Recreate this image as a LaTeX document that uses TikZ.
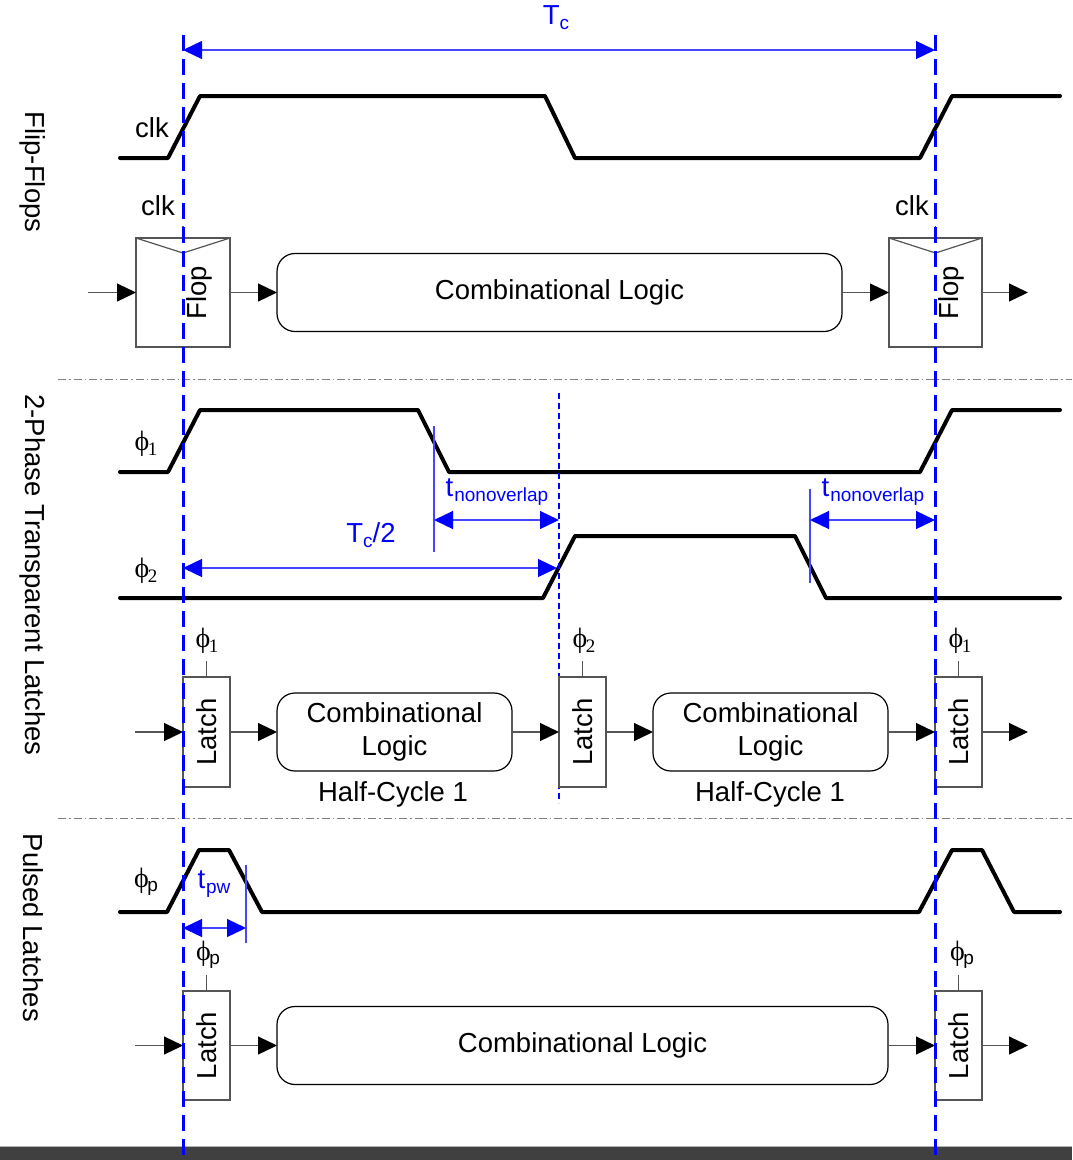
\documentclass[tikz,border=0pt]{standalone}
\usepackage{fontspec}
\setmainfont{Liberation Sans}
\newfontfamily\serifnum{Liberation Serif}
\usetikzlibrary{arrows.meta}
\definecolor{pureblue}{RGB}{0,0,255}
\definecolor{lineblue}{RGB}{70,70,255}
\definecolor{boxgray}{RGB}{85,85,85}
\definecolor{bardark}{RGB}{64,64,64}
\newcommand{\bigtxt}{\fontsize{27.5}{33}\selectfont}
\newcommand{\subtxt}{\fontsize{19}{19}\selectfont}
\newcommand{\phisub}[1]{{\serifnum\fontsize{28}{28}\selectfont ϕ}\kern-1.5pt\raisebox{-0.3ex}{\fontsize{19}{19}\selectfont #1}}
\newcommand{\phinum}[1]{\phisub{\serifnum #1}}
\begin{document}
\begin{tikzpicture}[x=1pt,y=-1pt,
  wave/.style={line width=4pt, line join=round, line cap=round},
  blockbox/.style={draw=boxgray, line width=1.2pt, inner sep=0pt, outer sep=0pt},
  latchbox/.style={blockbox, minimum width=47pt, minimum height=110pt},
  flopbox/.style={blockbox, minimum width=94pt, minimum height=109pt},
  logicbox/.style={draw=black, line width=1.2pt, rounded corners=18pt, inner sep=0pt, outer sep=0pt, minimum height=78pt, font=\bigtxt, align=center},
  conn/.style={draw=boxgray, line width=1.2pt, -{Triangle[length=19pt,width=18pt,fill=black,color=black]}},
  tick/.style={draw=boxgray, line width=1.2pt},
  edgemark/.style={draw=pureblue, line width=3pt, dash pattern=on 16pt off 8pt},
  halfmark/.style={draw=pureblue, line width=1.4pt, dash pattern=on 6pt off 4pt},
  measure/.style={draw=lineblue, line width=1.3pt, {Triangle[length=19pt,width=18pt,color=pureblue]}-{Triangle[length=19pt,width=18pt,color=pureblue]}},
  limit/.style={draw=lineblue, line width=1.3pt},
  sep/.style={draw=gray, line width=1pt, dash pattern=on 8pt off 3pt on 1.5pt off 3pt},
  txt/.style={font=\bigtxt, inner sep=0pt},
  bluetxt/.style={font=\bigtxt, text=pureblue, inner sep=0pt}
]
\useasboundingbox (0,0) rectangle (1072,1160);

% bottom bar
\fill[bardark] (0,1147) rectangle (1072,1160);
\draw[gray!60, line width=1pt] (0,1146.5) -- (1072,1146.5);

% section separators
\draw[sep] (58,379) -- (1072,379);
\draw[sep] (58,818) -- (1072,818);

% section titles
\node[txt, rotate=-90] (ttlff) at (33,172) {Flip-Flops};
\node[txt, rotate=-90] (ttl2p) at (33,575) {2-Phase Transparent Latches};
\node[txt, rotate=-90] (ttlpl) at (33,928) {Pulsed Latches};

% ---------- flip-flop section ----------
\draw[wave] (120,158) -- (168,158) -- (200,96) -- (545,96) -- (575,158) -- (920,158) -- (952,96) -- (1060,96);
\node[txt] (clkw) at (152,128) {clk};

\coordinate (inA) at (88,292.5);
\node[flopbox] (flopA) at (183,292.5) {};
\node[txt, rotate=90] (flopAt) at (199,292.5) {Flop};
\node[logicbox, minimum width=565pt] (combA) at (559.5,292.5) {Combinational Logic};
\node[flopbox, minimum width=93pt] (flopB) at (935.5,292.5) {};
\node[txt, rotate=90] (flopBt) at (951,292.5) {Flop};
\coordinate (outA) at (1028,292.5);
\draw[blockbox] (flopA.north west) -- (183,253) -- (flopA.north east);
\draw[blockbox] (flopB.north west) -- (935.5,253) -- (flopB.north east);
\node[txt] (clkA) at (158,206) {clk};
\node[txt] (clkB) at (912,206) {clk};
\draw[tick] (flopA.north) -- ++(0,-12);
\draw[tick] (flopB.north) -- ++(0,-12);
\draw[conn] (inA) -- (flopA.west);
\draw[conn] (flopA.east) -- (combA.west);
\draw[conn] (combA.east) -- (flopB.west);
\draw[conn] (flopB.east) -- (outA);

% ---------- two-phase latch section ----------
\draw[wave] (120,472) -- (168,472) -- (200,410) -- (418,410) -- (449,472) -- (920,472) -- (952,410) -- (1060,410);
\draw[wave] (120,598) -- (543,598) -- (575,536) -- (795,536) -- (826,598) -- (1060,598);
\node[txt] (ph1w) at (146,444) {\phinum{1}};
\node[txt] (ph2w) at (146,571) {\phinum{2}};

\draw[halfmark] (559,393) -- (559,803);

% non-overlap and half-period measures
\coordinate (noAa) at (434,426);
\coordinate (noAb) at (434,552);
\draw[limit] (noAa) -- (noAb);
\coordinate (noAl) at (434,520);
\coordinate (noAr) at (559,520);
\draw[measure] (noAl) -- (noAr);
\node[bluetxt] (noAt) at (497,492) {t\kern1pt\raisebox{-0.35ex}{\subtxt nonoverlap}};

\coordinate (noBa) at (810,489);
\coordinate (noBb) at (810,583);
\draw[limit] (noBa) -- (noBb);
\coordinate (noBl) at (810,520);
\coordinate (noBr) at (935,520);
\draw[measure] (noBl) -- (noBr);
\node[bluetxt] (noBt) at (873,492) {t\kern1pt\raisebox{-0.35ex}{\subtxt nonoverlap}};

\coordinate (hpl) at (183,568);
\coordinate (hpr) at (557,568);
\draw[measure] (hpl) -- (hpr);
\node[bluetxt] (hpt) at (371,535) {T\raisebox{-0.35ex}{\subtxt c}/2};

\coordinate (inB) at (135,732);
\node[latchbox] (latA) at (206.5,732) {};
\node[txt, rotate=90] (latAt) at (206.5,732) {Latch};
\node[logicbox, minimum width=235pt] (combB) at (394.5,732) {Combinational\\Logic};
\node[latchbox] (latB) at (582.5,732) {};
\node[txt, rotate=90] (latBt) at (582.5,732) {Latch};
\node[logicbox, minimum width=235pt] (combC) at (770.5,732) {Combinational\\Logic};
\node[latchbox] (latC) at (958.5,732) {};
\node[txt, rotate=90] (latCt) at (958.5,732) {Latch};
\coordinate (outB) at (1028,732);
\draw[conn] (inB) -- (latA.west);
\draw[conn] (latA.east) -- (combB.west);
\draw[conn] (combB.east) -- (latB.west);
\draw[conn] (latB.east) -- (combC.west);
\draw[conn] (combC.east) -- (latC.west);
\draw[conn] (latC.east) -- (outB);
\draw[tick] (latA.north) -- ++(0,-16);
\draw[tick] (latB.north) -- ++(0,-16);
\draw[tick] (latC.north) -- ++(0,-16);
\node[txt] (latAc) at (207,641) {\phinum{1}};
\node[txt] (latBc) at (584,641) {\phinum{2}};
\node[txt] (latCc) at (960,641) {\phinum{1}};
\node[txt] (hcA) at (393,794) {Half-Cycle 1};
\node[txt] (hcB) at (770,794) {Half-Cycle 1};

% ---------- pulsed latch section ----------
\draw[wave] (120,912) -- (167,912) -- (199,850) -- (229,850) -- (262,912) -- (919,912) -- (952,850) -- (982,850) -- (1014,912) -- (1060,912);
\node[txt] (phpw) at (146,882) {\phisub{p}};

\coordinate (pwa) at (246,865);
\coordinate (pwb) at (246,943);
\draw[limit] (pwa) -- (pwb);
\coordinate (pwl) at (183,928);
\coordinate (pwr) at (246,928);
\draw[measure] (pwl) -- (pwr);
\node[bluetxt] (pwt) at (214,884) {t\kern1pt\raisebox{-0.35ex}{\subtxt pw}};

\coordinate (inC) at (135,1045.5);
\node[latchbox, minimum height=109pt] (latP) at (206.5,1045.5) {};
\node[txt, rotate=90] (latPt) at (206.5,1045.5) {Latch};
\node[logicbox, minimum width=611pt] (combD) at (582.5,1045.5) {Combinational Logic};
\node[latchbox, minimum height=109pt] (latQ) at (958.5,1045.5) {};
\node[txt, rotate=90] (latQt) at (958.5,1045.5) {Latch};
\coordinate (outC) at (1028,1045.5);
\draw[conn] (inC) -- (latP.west);
\draw[conn] (latP.east) -- (combD.west);
\draw[conn] (combD.east) -- (latQ.west);
\draw[conn] (latQ.east) -- (outC);
\draw[tick] (latP.north) -- ++(0,-16);
\draw[tick] (latQ.north) -- ++(0,-16);
\node[txt] (latPc) at (208,955) {\phisub{p}};
\node[txt] (latQc) at (962,955) {\phisub{p}};

% ---------- clock period ----------
\coordinate (tcl) at (183,50);
\coordinate (tcr) at (935,50);
\draw[measure] (tcl) -- (tcr);
\node[bluetxt] (tct) at (556,18) {T\raisebox{-0.35ex}{\subtxt c}};

% rising-edge reference lines
\coordinate (edgeAtop) at (183,35);
\coordinate (edgeAbot) at (183,1160);
\coordinate (edgeBtop) at (935,35);
\coordinate (edgeBbot) at (935,1160);
\draw[edgemark] (edgeAtop) -- (edgeAbot);
\draw[edgemark] (edgeBtop) -- (edgeBbot);
\end{tikzpicture}
\end{document}
